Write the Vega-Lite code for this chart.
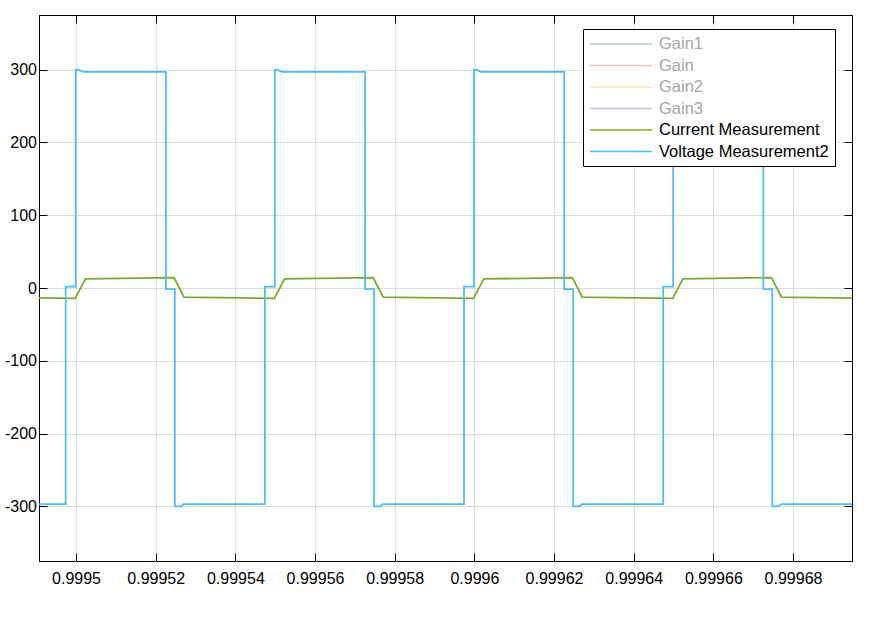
{
  "$schema": "https://vega.github.io/schema/vega-lite/v6.json",
  "width": 813,
  "height": 546,
  "autosize": "none",
  "padding": {"left": 39, "top": 15, "right": 23, "bottom": 58},
  "background": "white",
  "config": {
    "font": "Liberation Sans",
    "view": {"stroke": "black", "strokeWidth": 1}
  },
  "data": {
    "values": [
      {"series": "Current Measurement", "t": 0.99949, "v": -13.5},
      {"series": "Current Measurement", "t": 0.9994998, "v": -14.2},
      {"series": "Current Measurement", "t": 0.99950235, "v": 12.5},
      {"series": "Current Measurement", "t": 0.9995246, "v": 14.3},
      {"series": "Current Measurement", "t": 0.9995271, "v": -12.5},
      {"series": "Current Measurement", "t": 0.9995498, "v": -14.2},
      {"series": "Current Measurement", "t": 0.99955235, "v": 12.5},
      {"series": "Current Measurement", "t": 0.9995746, "v": 14.3},
      {"series": "Current Measurement", "t": 0.9995771, "v": -12.5},
      {"series": "Current Measurement", "t": 0.9995998, "v": -14.2},
      {"series": "Current Measurement", "t": 0.99960235, "v": 12.5},
      {"series": "Current Measurement", "t": 0.9996246, "v": 14.3},
      {"series": "Current Measurement", "t": 0.9996271, "v": -12.5},
      {"series": "Current Measurement", "t": 0.9996498, "v": -14.2},
      {"series": "Current Measurement", "t": 0.99965235, "v": 12.5},
      {"series": "Current Measurement", "t": 0.9996746, "v": 14.3},
      {"series": "Current Measurement", "t": 0.9996771, "v": -12.5},
      {"series": "Current Measurement", "t": 0.9996948, "v": -13.8},

      {"series": "Voltage Measurement2", "t": 0.99949, "v": -297},
      {"series": "Voltage Measurement2", "t": 0.9994974, "v": -297},
      {"series": "Voltage Measurement2", "t": 0.9994974, "v": 2},
      {"series": "Voltage Measurement2", "t": 0.9994999, "v": 2},
      {"series": "Voltage Measurement2", "t": 0.9994999, "v": 300},
      {"series": "Voltage Measurement2", "t": 0.9995005, "v": 300},
      {"series": "Voltage Measurement2", "t": 0.9995017, "v": 297},
      {"series": "Voltage Measurement2", "t": 0.99952255, "v": 297},
      {"series": "Voltage Measurement2", "t": 0.99952255, "v": -1.5},
      {"series": "Voltage Measurement2", "t": 0.9995248, "v": -1.5},
      {"series": "Voltage Measurement2", "t": 0.9995248, "v": -300},
      {"series": "Voltage Measurement2", "t": 0.9995263, "v": -300},
      {"series": "Voltage Measurement2", "t": 0.999527, "v": -297},

      {"series": "Voltage Measurement2", "t": 0.9995474, "v": -297},
      {"series": "Voltage Measurement2", "t": 0.9995474, "v": 2},
      {"series": "Voltage Measurement2", "t": 0.9995499, "v": 2},
      {"series": "Voltage Measurement2", "t": 0.9995499, "v": 300},
      {"series": "Voltage Measurement2", "t": 0.9995505, "v": 300},
      {"series": "Voltage Measurement2", "t": 0.9995517, "v": 297},
      {"series": "Voltage Measurement2", "t": 0.99957255, "v": 297},
      {"series": "Voltage Measurement2", "t": 0.99957255, "v": -1.5},
      {"series": "Voltage Measurement2", "t": 0.9995748, "v": -1.5},
      {"series": "Voltage Measurement2", "t": 0.9995748, "v": -300},
      {"series": "Voltage Measurement2", "t": 0.9995763, "v": -300},
      {"series": "Voltage Measurement2", "t": 0.999577, "v": -297},

      {"series": "Voltage Measurement2", "t": 0.9995974, "v": -297},
      {"series": "Voltage Measurement2", "t": 0.9995974, "v": 2},
      {"series": "Voltage Measurement2", "t": 0.9995999, "v": 2},
      {"series": "Voltage Measurement2", "t": 0.9995999, "v": 300},
      {"series": "Voltage Measurement2", "t": 0.9996005, "v": 300},
      {"series": "Voltage Measurement2", "t": 0.9996017, "v": 297},
      {"series": "Voltage Measurement2", "t": 0.99962255, "v": 297},
      {"series": "Voltage Measurement2", "t": 0.99962255, "v": -1.5},
      {"series": "Voltage Measurement2", "t": 0.9996248, "v": -1.5},
      {"series": "Voltage Measurement2", "t": 0.9996248, "v": -300},
      {"series": "Voltage Measurement2", "t": 0.9996263, "v": -300},
      {"series": "Voltage Measurement2", "t": 0.999627, "v": -297},

      {"series": "Voltage Measurement2", "t": 0.9996474, "v": -297},
      {"series": "Voltage Measurement2", "t": 0.9996474, "v": 2},
      {"series": "Voltage Measurement2", "t": 0.9996499, "v": 2},
      {"series": "Voltage Measurement2", "t": 0.9996499, "v": 300},
      {"series": "Voltage Measurement2", "t": 0.9996505, "v": 300},
      {"series": "Voltage Measurement2", "t": 0.9996517, "v": 297},
      {"series": "Voltage Measurement2", "t": 0.99967255, "v": 297},
      {"series": "Voltage Measurement2", "t": 0.99967255, "v": -1.5},
      {"series": "Voltage Measurement2", "t": 0.9996748, "v": -1.5},
      {"series": "Voltage Measurement2", "t": 0.9996748, "v": -300},
      {"series": "Voltage Measurement2", "t": 0.9996763, "v": -300},
      {"series": "Voltage Measurement2", "t": 0.999677, "v": -297},
      {"series": "Voltage Measurement2", "t": 0.9996948, "v": -297}
    ]
  },
  "layer": [
    {
      "mark": {"type": "line", "strokeWidth": 1.8, "clip": true},
      "encoding": {
        "x": {
          "field": "t", "type": "quantitative",
          "scale": {"domain": [0.9994907, 0.9996948], "nice": false, "zero": false},
          "axis": {
            "orient": "bottom", "title": null,
            "values": [0.9995, 0.99952, 0.99954, 0.99956, 0.99958, 0.9996, 0.99962, 0.99964, 0.99966, 0.99968],
            "format": "~g",
            "labelFont": "Liberation Sans", "labelFontSize": 16, "labelColor": "black",
            "labelPadding": 17, "tickSize": -8, "tickColor": "black",
            "domainColor": "black", "grid": true, "gridColor": "#dcdcdc", "labelFlush": false, "labelOverlap": false
          }
        },
        "y": {
          "field": "v", "type": "quantitative",
          "scale": {"domain": [-375, 375], "nice": false, "zero": false},
          "axis": {
            "orient": "left", "title": null,
            "values": [-300, -200, -100, 0, 100, 200, 300],
            "labelExpr": "'' + datum.value",
            "labelFont": "Liberation Sans", "labelFontSize": 16, "labelColor": "black",
            "labelPadding": 10.5, "tickSize": -8, "tickColor": "black",
            "domainColor": "black", "grid": true, "gridColor": "#dcdcdc", "labelOverlap": false
          }
        },
        "color": {
          "field": "series", "type": "nominal",
          "scale": {
            "domain": ["Gain1", "Gain", "Gain2", "Gain3", "Current Measurement", "Voltage Measurement2"],
            "range": ["#aacbe6", "#eec8b6", "#f4e4bb", "#cdc1d7", "#77ac30", "#4dbeee"]
          },
          "legend": {
            "orient": "none", "legendX": 544, "legendY": 14, "title": null,
            "strokeColor": "black", "fillColor": "white", "padding": 6, "cornerRadius": 0,
            "symbolType": "M-1,0H6.75", "symbolSize": 256, "symbolStrokeWidth": 1.5,
            "labelFont": "Liberation Sans", "labelFontSize": 16.5, "labelOffset": 52,
            "rowPadding": 3.5, "labelLimit": 400,
            "encode": {
              "labels": {
                "update": {
                  "fill": [
                    {"test": "datum.label == 'Current Measurement' || datum.label == 'Voltage Measurement2'", "value": "black"},
                    {"value": "#a6a6a6"}
                  ]
                }
              }
            }
          }
        },
        "order": {"value": null}
      }
    },
    {
      "mark": {"type": "line", "opacity": 0},
      "encoding": {
        "x": {
          "field": "t", "type": "quantitative",
          "axis": {
            "orient": "top", "title": null, "labels": false,
            "values": [0.9995, 0.99952, 0.99954, 0.99956, 0.99958, 0.9996, 0.99962, 0.99964, 0.99966, 0.99968],
            "tickSize": -8, "tickColor": "black", "domainColor": "black", "grid": false
          }
        },
        "y": {
          "field": "v", "type": "quantitative",
          "axis": {
            "orient": "right", "title": null, "labels": false,
            "values": [-300, -200, -100, 0, 100, 200, 300],
            "tickSize": -8, "tickColor": "black", "domainColor": "black", "grid": false
          }
        },
        "detail": {"field": "series"},
        "order": {"value": null}
      }
    }
  ],
  "resolve": {"axis": {"x": "independent", "y": "independent"}}
}
